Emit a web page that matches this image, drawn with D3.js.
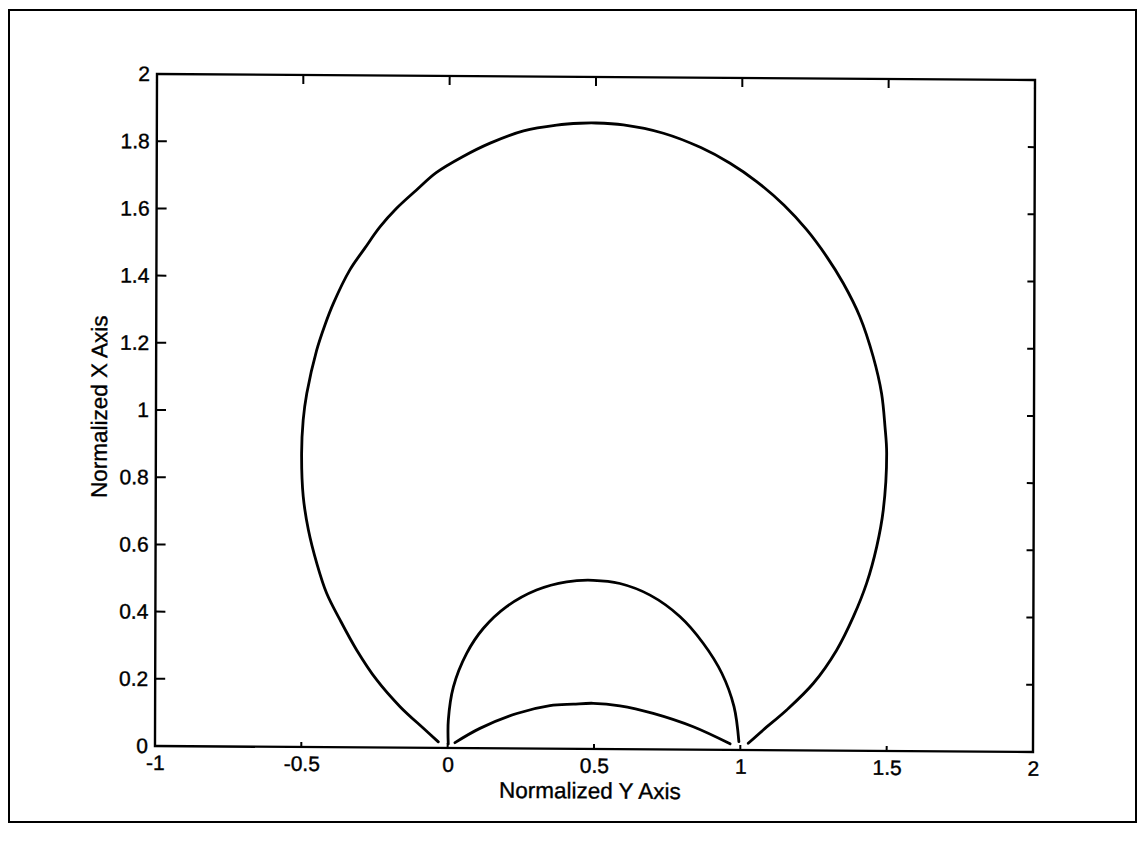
<!DOCTYPE html>
<html>
<head>
<meta charset="utf-8">
<script src="https://cdn.jsdelivr.net/npm/d3@7"></script>
<style>
  html, body { margin: 0; padding: 0; background: #fff; }
  svg { display: block; }
  text { font-family: "Liberation Sans", Arial, Helvetica, sans-serif; fill: #000; }
</style>
</head>
<body>
<svg id="chart" width="1138" height="842"></svg>
<script>
// Axis ticks and their labels
const xTicks = [-1, -0.5, 0, 0.5, 1, 1.5, 2];
const xTickLabels = ["-1", "-0.5", "0", "0.5", "1", "1.5", "2"];
const yTicks = [0, 0.2, 0.4, 0.6, 0.8, 1, 1.2, 1.4, 1.6, 1.8, 2];
const yTickLabels = ["0", "0.2", "0.4", "0.6", "0.8", "1", "1.2", "1.4", "1.6", "1.8", "2"];

// Outer boundary (large loop from the left foot, over the top, to the right foot)
const outerY = [-0.032, -0.083, -0.163, -0.243, -0.312, -0.369, -0.415, -0.449, -0.478, -0.496,
  -0.502, -0.497, -0.485, -0.452, -0.423, -0.395, -0.339, -0.288, -0.236, -0.180,
  -0.112, -0.045, 0.045, 0.139, 0.253, 0.366, 0.446, 0.500, 0.594, 0.731,
  0.859, 0.959, 1.050, 1.144, 1.222, 1.290, 1.347, 1.404, 1.450, 1.479,
  1.491, 1.497, 1.486, 1.464, 1.430, 1.385, 1.328, 1.249, 1.158, 1.078, 1.027];
const outerX = [0.018, 0.058, 0.122, 0.201, 0.290, 0.379, 0.458, 0.547, 0.646, 0.745,
  0.874, 0.973, 1.052, 1.180, 1.258, 1.321, 1.421, 1.486, 1.550, 1.605,
  1.660, 1.712, 1.760, 1.801, 1.838, 1.856, 1.862, 1.863, 1.858, 1.834,
  1.792, 1.746, 1.692, 1.622, 1.549, 1.470, 1.391, 1.292, 1.173, 1.064,
  0.965, 0.886, 0.717, 0.608, 0.499, 0.399, 0.299, 0.200, 0.120, 0.060, 0.020];

// Middle arch between the two feet
const middleY = [0.002, 0.002, 0.019, 0.064, 0.121, 0.200, 0.302, 0.405, 0.496, 0.587,
  0.690, 0.792, 0.872, 0.936, 0.978, 0.995];
const middleX = [0.012, 0.083, 0.182, 0.282, 0.357, 0.422, 0.472, 0.497, 0.502, 0.493,
  0.459, 0.396, 0.317, 0.228, 0.129, 0.025];

// Low arch near the baseline
const lowerY = [0.025, 0.110, 0.236, 0.349, 0.429, 0.497, 0.588, 0.702, 0.839, 0.965];
const lowerX = [0.016, 0.059, 0.104, 0.128, 0.133, 0.136, 0.129, 0.107, 0.068, 0.018];

const svg = d3.select("#chart");

// Page frame
svg.append("rect")
  .attr("x", 9).attr("y", 10)
  .attr("width", 1127).attr("height", 812)
  .attr("fill", "none").attr("stroke", "#000").attr("stroke-width", 2);

const plot = { left: 157, top: 74, right: 1035, bottom: 746 };

// Slight tilt of the whole plot block
const g = svg.append("g")
  .attr("transform", `matrix(1, 0.0068, -0.003, 1, ${0.003 * plot.top}, ${-0.0068 * plot.left})`);

const x = d3.scaleLinear().domain([-1, 2]).range([plot.left, plot.right]);
const y = d3.scaleLinear().domain([0, 2]).range([plot.bottom, plot.top]);

const fontTick = 21;

function styleAxis(sel) {
  sel.select(".domain").remove();
  sel.selectAll(".tick line").remove();
  sel.selectAll(".tick text")
    .style("font-size", fontTick + "px")
    .attr("fill", "#000")
    .attr("stroke", "#000")
    .attr("stroke-width", 0.4);
}

// Tick labels
g.append("g")
  .attr("transform", `translate(0,${plot.bottom})`)
  .call(d3.axisBottom(x).tickValues(xTicks)
    .tickFormat((d, i) => xTickLabels[i])
    .tickSize(0).tickPadding(9))
  .call(styleAxis);

g.append("g")
  .attr("transform", `translate(${plot.left},0)`)
  .call(d3.axisLeft(y).tickValues(yTicks)
    .tickFormat((d, i) => yTickLabels[i])
    .tickSize(0).tickPadding(7))
  .call(styleAxis);

// Axes box
g.append("rect")
  .attr("x", plot.left).attr("y", plot.top)
  .attr("width", plot.right - plot.left).attr("height", plot.bottom - plot.top)
  .attr("fill", "none").attr("stroke", "#000").attr("stroke-width", 2.4);

// Inward tick marks on all four sides, as short filled bars
const tickW = 2;
const lenTop = 9, lenBottom = 5, lenLeft = 10, lenRight = 7;
const ticks = g.append("g").attr("fill", "#000");

ticks.selectAll("rect.xb").data(xTicks).join("rect")
  .attr("class", "xb")
  .attr("x", d => x(d) - tickW / 2).attr("width", tickW)
  .attr("y", plot.bottom - lenBottom).attr("height", lenBottom);
ticks.selectAll("rect.xt").data(xTicks).join("rect")
  .attr("class", "xt")
  .attr("x", d => x(d) - tickW / 2).attr("width", tickW)
  .attr("y", plot.top).attr("height", lenTop);
ticks.selectAll("rect.yl").data(yTicks).join("rect")
  .attr("class", "yl")
  .attr("x", plot.left).attr("width", lenLeft)
  .attr("y", d => y(d) - tickW / 2).attr("height", tickW);
ticks.selectAll("rect.yr").data(yTicks).join("rect")
  .attr("class", "yr")
  .attr("x", plot.right - lenRight).attr("width", lenRight)
  .attr("y", d => y(d) - tickW / 2).attr("height", tickW);

// Curves
const line = d3.line()
  .x(d => x(d[0]))
  .y(d => y(d[1]))
  .curve(d3.curveCatmullRom.alpha(0.5));

const series = [
  d3.zip(outerY, outerX),
  d3.zip(middleY, middleX),
  d3.zip(lowerY, lowerX)
];

g.selectAll("path.curve")
  .data(series)
  .join("path")
  .attr("class", "curve")
  .attr("d", line)
  .attr("fill", "none")
  .attr("stroke", "#000")
  .attr("stroke-width", 2.8)
  .attr("stroke-linejoin", "round")
  .attr("stroke-linecap", "round");

// Axis titles
g.append("text")
  .attr("x", (plot.left + plot.right) / 2 - 4)
  .attr("y", 795.5)
  .attr("text-anchor", "middle")
  .attr("stroke", "#000").attr("stroke-width", 0.35)
  .style("font-size", "22.5px")
  .text("Normalized Y Axis");

g.append("text")
  .attr("transform", `translate(108,${(plot.top + plot.bottom) / 2 - 3}) rotate(-90)`)
  .attr("text-anchor", "middle")
  .attr("stroke", "#000").attr("stroke-width", 0.35)
  .style("font-size", "22.5px")
  .text("Normalized X Axis");
</script>
</body>
</html>
